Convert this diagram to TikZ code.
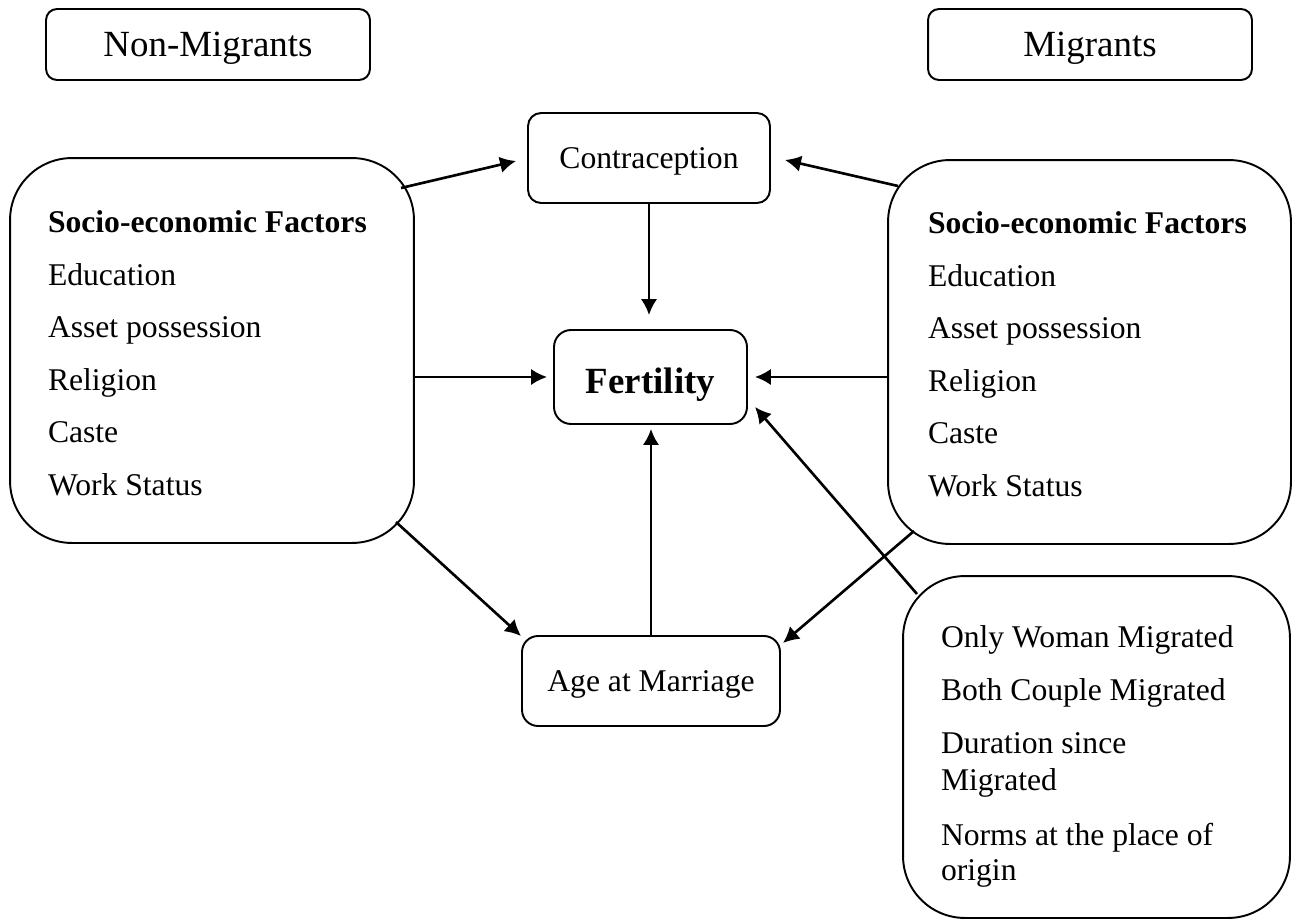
\documentclass[tikz,border=0pt]{standalone}
\usepackage{fontspec}
\setmainfont{Liberation Serif}
\usetikzlibrary{arrows.meta,calc}
\begin{document}
\begin{tikzpicture}[x=0.02cm,y=-0.02cm,
  every node/.style={inner sep=0pt, outer sep=0pt},
  smallbox/.style={draw, line width=1.1pt, rounded corners=0.22cm, align=center, text depth=0pt},
  bigbox/.style={draw, line width=1.1pt, rounded corners=1.24cm},
  itemtext/.style={anchor=base west, font=\fontsize{18}{21}\selectfont},
  arr/.style={line width=1.5pt, -{Latex[length=0.32cm,width=0.33cm]}}]
\useasboundingbox (0,0) rectangle (1298,919);

% header boxes
\node[smallbox, minimum width=6.48cm, minimum height=1.42cm, text height=13.9pt, font=\fontsize{21}{25}\selectfont] (nonmig) at (208,44.5) {Non-Migrants};
\node[smallbox, minimum width=6.48cm, minimum height=1.42cm, text height=13.9pt, font=\fontsize{21}{25}\selectfont] (mig) at (1090,44.5) {Migrants};

% central boxes
\node[smallbox, minimum width=4.84cm, minimum height=1.8cm, rounded corners=0.26cm, text height=12.5pt, font=\fontsize{18}{21}\selectfont] (contra) at (649,158) {Contraception};
\node[smallbox, minimum width=3.86cm, minimum height=1.88cm, rounded corners=0.34cm, text height=18.7pt, font=\fontsize{21}{25}\selectfont\bfseries] (fert) at (650.5,377) {Fertility};
\node[smallbox, minimum width=5.16cm, minimum height=1.8cm, rounded corners=0.32cm, text height=12.5pt, font=\fontsize{18}{21}\selectfont] (age) at (651,681) {Age at Marriage};

% big boxes
\node[bigbox, minimum width=8.08cm, minimum height=7.7cm] (lbox) at (212,350.5) {};
\node[bigbox, minimum width=8.06cm, minimum height=7.68cm] (rbox) at (1089.5,352) {};
\node[bigbox, minimum width=7.74cm, minimum height=6.84cm] (bbox) at (1096.5,747) {};

% left box text
\node[itemtext, font=\fontsize{18}{21}\selectfont\bfseries] (l0) at (48,232) {Socio-economic Factors};
\node[itemtext] (l1) at (48,285) {Education};
\node[itemtext] (l2) at (48,337) {Asset possession};
\node[itemtext] (l3) at (48,390) {Religion};
\node[itemtext] (l4) at (48,442) {Caste};
\node[itemtext] (l5) at (48,495) {Work Status};

% right box text
\node[itemtext, font=\fontsize{18}{21}\selectfont\bfseries] (r0) at (928,233) {Socio-economic Factors};
\node[itemtext] (r1) at (928,286) {Education};
\node[itemtext] (r2) at (928,338) {Asset possession};
\node[itemtext] (r3) at (928,391) {Religion};
\node[itemtext] (r4) at (928,443) {Caste};
\node[itemtext] (r5) at (928,496) {Work Status};

% bottom right box text
\node[itemtext] (b0) at (941,647) {Only Woman Migrated};
\node[itemtext] (b1) at (941,700) {Both Couple Migrated};
\node[itemtext] (b2) at (941,753) {Duration since};
\node[itemtext] (b3) at (941,790) {Migrated};
\node[itemtext] (b4) at (941,845) {Norms at the place of};
\node[itemtext] (b5) at (941,880) {origin};

% connector start points on the rounded corners
\coordinate (ls1) at (401,188);
\coordinate (ls2) at (396,522);
\coordinate (rs1) at (898,186);
\coordinate (rs2) at (914,531);
\coordinate (bs1) at (917,594);

% connectors
\draw[arr] (ls1) -- ($(contra.west)+(-12,3)$);
\draw[arr] (rs1) -- ($(contra.east)+(15,2)$);
\draw[arr, shorten >=0.3cm] (contra.south) -- (contra.south |- fert.north);
\draw[arr, shorten >=0.14cm] (fert.west -| lbox.east) -- (fert.west);
\draw[arr, shorten >=0.16cm] (fert.east -| rbox.west) -- (fert.east);
\draw[arr, shorten >=0.1cm] (age.north) -- (age.north |- fert.south);
\draw[arr] (ls2) -- ($(age.north west)+(-1,0)$);
\draw[arr] (rs2) -- ($(age.north east)+(3,7)$);
\draw[arr] (bs1) -- ($(fert.south east)+(8,-17)$);
\end{tikzpicture}
\end{document}
